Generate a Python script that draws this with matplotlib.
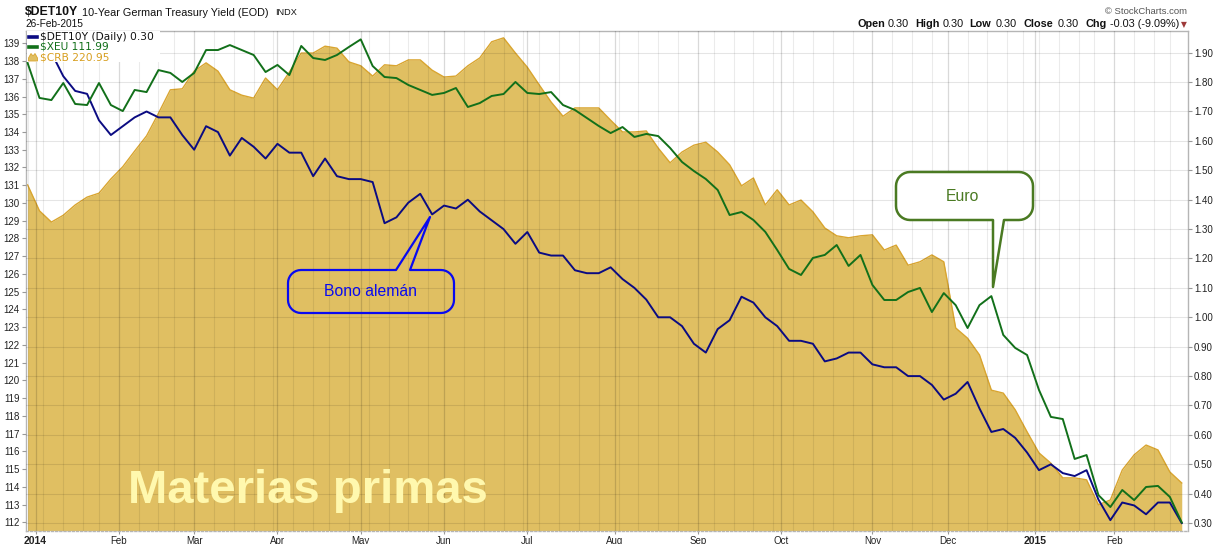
import numpy as np
import pandas as pd
import matplotlib
matplotlib.use("Agg")
import matplotlib.pyplot as plt
from matplotlib.patches import Polygon, Rectangle

plt.rcParams['font.family'] = ['Liberation Sans', 'DejaVu Sans']

# ---------------- data ----------------
START, END = '2013-12-27', '2015-02-26'
HOLIDAYS = ['2014-01-01', '2014-01-20', '2014-02-17', '2014-04-18', '2014-05-26',
            '2014-07-04', '2014-09-01', '2014-11-27', '2014-12-25', '2015-01-01',
            '2015-01-19', '2015-02-16']
SAMPLE_STEP = 3  # one reading every 3 trading days, starting with the 2nd day

det10y = [1.93, 1.95, 1.90, 1.82, 1.77, 1.76, 1.67, 1.62, 1.65, 1.68,
          1.70, 1.68, 1.68, 1.62, 1.57, 1.65, 1.63, 1.55, 1.61, 1.58,
          1.54, 1.59, 1.56, 1.56, 1.48, 1.54, 1.48, 1.47, 1.47, 1.46,
          1.32, 1.34, 1.39, 1.42, 1.35, 1.38, 1.37, 1.40, 1.36, 1.33,
          1.30, 1.25, 1.29, 1.22, 1.21, 1.21, 1.16, 1.15, 1.15, 1.17,
          1.13, 1.10, 1.06, 1.00, 1.00, 0.97, 0.91, 0.88, 0.96, 0.99,
          1.07, 1.05, 1.00, 0.97, 0.92, 0.92, 0.91, 0.85, 0.86, 0.88,
          0.88, 0.84, 0.83, 0.83, 0.80, 0.80, 0.77, 0.72, 0.74, 0.78,
          0.69, 0.61, 0.62, 0.59, 0.54, 0.48, 0.50, 0.47, 0.46, 0.48,
          0.38, 0.31, 0.37, 0.36, 0.33, 0.37, 0.37, 0.30]

xeu = [137.89, 135.92, 135.80, 136.76, 135.58, 135.52, 136.76, 135.52, 135.18, 136.37,
       136.25, 137.49, 137.33, 136.82, 137.33, 138.62, 138.62, 138.90, 138.62, 138.34,
       137.38, 137.78, 137.21, 138.85, 138.17, 138.06, 138.34, 138.79, 139.22, 137.72,
       137.10, 137.04, 136.65, 136.37, 136.09, 136.20, 136.48, 135.41, 135.63, 136.03,
       136.14, 136.82, 136.20, 136.14, 136.25, 135.52, 135.24, 134.79, 134.34, 133.94,
       134.28, 133.72, 133.89, 133.77, 133.10, 132.31, 131.80, 131.35, 130.73, 129.32,
       129.49, 129.04, 128.37, 127.35, 126.28, 125.94, 126.90, 127.07, 127.63, 126.45,
       127.07, 125.38, 124.53, 124.53, 124.98, 125.21, 123.85, 124.92, 124.24, 122.95,
       124.24, 124.75, 122.56, 121.83, 121.43, 119.46, 117.94, 117.82, 115.57, 115.79,
       113.53, 112.86, 113.82, 113.25, 113.99, 114.05, 113.43, 111.99]

crb = [281.8, 276.5, 274.2, 275.6, 277.7, 279.3, 280.1, 283.0, 285.5, 288.7,
       291.8, 296.4, 301.2, 301.4, 305.0, 306.7, 305.0, 301.2, 300.1, 299.5,
       303.6, 301.2, 304.8, 308.7, 308.7, 310.1, 309.7, 306.9, 306.1, 304.0,
       306.3, 306.1, 307.3, 307.3, 305.2, 303.8, 304.0, 306.1, 307.7, 311.0,
       311.8, 308.7, 305.8, 302.2, 298.7, 295.8, 297.5, 297.5, 297.5, 295.0,
       292.6, 292.6, 292.8, 289.3, 286.3, 288.5, 289.9, 290.5, 288.5, 285.9,
       281.6, 283.2, 277.7, 280.8, 277.7, 278.7, 276.3, 273.0, 271.4, 271.0,
       271.4, 271.6, 268.5, 269.5, 265.4, 266.1, 267.5, 266.1, 252.6, 250.5,
       247.1, 239.9, 239.3, 235.9, 231.4, 227.1, 225.0, 222.0, 222.0, 221.6,
       216.5, 217.5, 223.6, 226.7, 228.7, 227.7, 223.2, 220.95]

MONTH_NAMES = ['Jan', 'Feb', 'Mar', 'Apr', 'May', 'Jun',
               'Jul', 'Aug', 'Sep', 'Oct', 'Nov', 'Dec']
XEU_TICKS = list(range(112, 140))
DET_TICKS = [0.30, 0.40, 0.50, 0.60, 0.70, 0.80, 0.90, 1.00, 1.10, 1.20,
             1.30, 1.40, 1.50, 1.60, 1.70, 1.80, 1.90]
HDR_DATE = '26-Feb-2015'
OPEN, HIGH, LOW, CLOSE = 0.30, 0.30, 0.30, 0.30
CHG, CHG_PCT = -0.03, -9.09

# ---------------- colours ----------------
C_DET = '#0B0B82'
C_XEU = '#12701A'
C_CRB_FILL = '#E0BF62'
C_CRB_EDGE = '#D9A530'
C_CRB_TXT = '#D79E1E'

# ---------------- figure ----------------
W, H = 1223, 544
fig = plt.figure(figsize=(W / 100, H / 100), dpi=100)


def fx(px):
    return px / W


def fy(py):
    return 1 - py / H


L, R, T, B = 26, 1187.7, 31, 530.5
ax = fig.add_axes([fx(L), fy(B), (R - L) / W, (B - T) / H])
ax_det = ax.twinx()
ax_xeu = ax.twinx()

days = pd.bdate_range(START, END, freq='C', holidays=HOLIDAYS)
day_idx = np.arange(len(days))
x = day_idx[1::SAMPLE_STEP]

# CRB area (hidden scale)
crb_lo, crb_hi = 211.26, 313.2
ax.fill_between(x, crb, crb_lo, color=C_CRB_FILL, lw=0, zorder=1)
ax.plot(x, crb, color=C_CRB_EDGE, lw=1.0, zorder=2)
ax.set_ylim(crb_lo, crb_hi)
ax.set_yticks([])
ax.set_xlim(x[0] - 0.4, x[-1] + 1.5)

# grid (on DET axes, above the area)
month_start = [i for i in range(len(days)) if i == 0 or days[i].month != days[i - 1].month]
month_start = [i for i in month_start if i > 0 or days[0].day == 1]
week_start = [i for i in range(1, len(days))
              if days[i].weekday() < days[i - 1].weekday() and i not in month_start]
for i in week_start:
    ax_det.axvline(i, color='k', alpha=0.08, lw=0.8, zorder=0.5)
for i in month_start:
    ax_det.axvline(i, color='k', alpha=0.15, lw=0.9, zorder=0.6)
for v in DET_TICKS:
    ax_det.axhline(v, color='k', alpha=0.1, lw=0.8, zorder=0.5)

# DET10Y on right axis
ax_det.plot(x, det10y, color=C_DET, lw=1.4, zorder=3)
ax_det.set_ylim(0.2748, 1.9738)
ax_det.set_yticks(DET_TICKS)
ax_det.set_yticklabels(['%.2f' % v for v in DET_TICKS])
ax_det.tick_params(axis='y', length=3, width=0.8, color='#999999', pad=1.5,
                   labelsize=7, labelcolor='#222222')

# XEU on left axis
ax_xeu.plot(x, xeu, color=C_XEU, lw=1.4, zorder=3)
ax_xeu.set_ylim(111.537, 139.693)
ax_xeu.yaxis.tick_left()
ax_xeu.set_yticks(XEU_TICKS)
ax_xeu.set_yticklabels([str(v) for v in XEU_TICKS])
ax_xeu.tick_params(axis='y', length=3, width=0.8, color='#999999', pad=1.5,
                   labelsize=7, labelcolor='#222222')

# x ticks at month starts
labels = []
for i in month_start:
    d = days[i]
    labels.append(str(d.year) if d.month == 1 else MONTH_NAMES[d.month - 1])
ax.set_xticks(month_start)
ax.set_xticklabels(labels)
ax.tick_params(axis='x', length=2, color='#999999', pad=2, labelsize=7, labelcolor='#222222')
for lab in ax.get_xticklabels():
    if lab.get_text().isdigit():
        lab.set_fontweight('bold')
        lab.set_fontsize(7.5)

for a in (ax_det, ax_xeu):
    for s in a.spines.values():
        s.set_visible(False)
for s in ax.spines.values():
    s.set_color('#b5b5b5')
    s.set_linewidth(1.0)
ax.spines['bottom'].set_linestyle((0, (1.5, 1.5)))

# ---------------- header ----------------
def ptext(px, py, s, **kw):
    kw.setdefault('va', 'center')
    return fig.text(fx(px), fy(py), s, **kw)


ptext(25, 12, '$DET10Y', fontsize=8.8, fontweight='bold', color='#111111')
ptext(82, 12.5, '10-Year German Treasury Yield (EOD)', fontsize=7.8, color='#111111')
ptext(275, 12.8, 'INDX', fontsize=6.6, color='#111111')
ptext(25, 24.3, HDR_DATE, fontsize=7.3, color='#111111')
ptext(1187, 11.7, '\u00a9 StockCharts.com', fontsize=6.8, color='#555555', ha='right')

pieces = [(857.3, 'Open', True), (888.0, '%.2f' % OPEN, False),
          (915.7, 'High', True), (942.7, '%.2f' % HIGH, False),
          (969.7, 'Low', True), (995.7, '%.2f' % LOW, False),
          (1023.7, 'Close', True), (1057.7, '%.2f' % CLOSE, False),
          (1085.7, 'Chg', True), (1110.0, '%.2f (%.2f%%)' % (CHG, CHG_PCT), False)]
for px, s, bold in pieces:
    ptext(px, 24.3, s, fontsize=7.8, fontweight='bold' if bold else 'normal', color='#111111')
ptext(1181, 24.6, '\u25bc', fontsize=5.5, color='#9E3A3A', family='DejaVu Sans')

# ---------------- legend ----------------
fig.add_artist(Rectangle((fx(27), fy(62)), fx(160) - fx(27), fy(31.5) - fy(62),
                         transform=fig.transFigure, fc='white', ec='none', zorder=1))
leg_rows = [(36.5, '$DET10Y (Daily) %.2f' % det10y[-1], '#111111', C_DET),
            (46.8, '$XEU %.2f' % xeu[-1], C_XEU, C_XEU),
            (57.0, '$CRB %.2f' % crb[-1], C_CRB_TXT, None)]
for py, s, tc, lc in leg_rows:
    if lc is not None:
        fig.add_artist(plt.Line2D([fx(29), fx(37)], [fy(py), fy(py)], color=lc, lw=2.6,
                                  transform=fig.transFigure, zorder=2))
    else:
        fig.add_artist(Polygon([(fx(28.5), fy(py + 4)), (fx(28.5), fy(py + 1)),
                                (fx(31), fy(py - 3.5)), (fx(33), fy(py - 1)),
                                (fx(35), fy(py - 3.5)), (fx(37.5), fy(py + 1)),
                                (fx(37.5), fy(py + 4))],
                               closed=True, transform=fig.transFigure,
                               fc=C_CRB_FILL, ec=C_CRB_EDGE, lw=0.6, zorder=2))
    ptext(39.5, py, s, fontsize=7.7, color=tc, family='DejaVu Sans', zorder=3)


# ---------------- callouts ----------------
def callout(x0, y0, x1, y1, r, pa, pb, tip, side, ec, fc, lw):
    pts = []

    def arc(cx, cy, a0, a1):
        for t in np.linspace(np.radians(a0), np.radians(a1), 9):
            pts.append((cx + r * np.cos(t), cy + r * np.sin(t)))

    pts.append((x0 + r, y0))
    if side == 'top':
        pts.extend([(pa, y0), tip, (pb, y0)])
    arc(x1 - r, y0 + r, -90, 0)
    arc(x1 - r, y1 - r, 0, 90)
    if side == 'bottom':
        pts.extend([(pb, y1), tip, (pa, y1)])
    arc(x0 + r, y1 - r, 90, 180)
    arc(x0 + r, y0 + r, 180, 270)
    fig.add_artist(Polygon([(fx(a), fy(b)) for a, b in pts], closed=True,
                           transform=fig.transFigure, ec=ec, fc=fc, lw=lw,
                           joinstyle='round', zorder=2))


callout(288, 270, 454, 313, 13, 396, 410, (430, 217), 'top', '#0A0AF0', 'none', 1.6)
ptext(370, 292, 'Bono alemán', fontsize=11.3, color='#0A0AF0', ha='center')

callout(896, 172, 1033, 220, 14, 993, 1004, (993, 287), 'bottom', '#4A7A22', 'white', 1.8)
ptext(962, 197, 'Euro', fontsize=11.3, color='#4A7A22', ha='center')

fig.text(fx(128), fy(502.7), 'Materias primas', fontsize=34, fontweight='bold',
         color='#FFF8AE', ha='left', va='baseline')

fig.savefig('out.png', dpi=100)
